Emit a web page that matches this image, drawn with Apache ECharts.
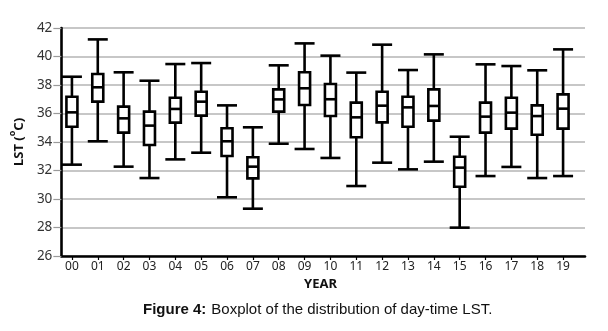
<!DOCTYPE html>
<html><head><meta charset="utf-8">
<script src="https://cdn.jsdelivr.net/npm/echarts@6/dist/echarts.min.js"></script>
<style>html,body{margin:0;padding:0;background:#fff}#c{width:608px;height:331px}</style>
</head><body><div id="c"></div>
<script>
var years = ['00','01','02','03','04','05','06','07','08','09','10','11','12','13','14','15','16','17','18','19'];
var whiskerLow = [32.41,34.05,32.27,31.47,32.78,33.25,30.12,29.32,33.88,33.51,32.88,30.91,32.55,32.08,32.62,27.99,31.61,32.25,31.47,31.61];
var q1 =         [35.07,36.83,34.66,33.79,35.36,35.85,33.02,31.45,36.13,36.60,35.82,34.33,35.38,35.07,35.50,30.86,34.66,34.94,34.51,34.94];
var median =     [36.08,37.84,35.66,35.15,36.32,36.83,34.05,32.27,36.99,37.77,37.00,35.73,36.55,36.43,36.53,32.20,35.78,36.06,35.82,36.34];
var q3 =         [37.18,38.77,36.48,36.13,37.11,37.53,34.96,32.93,37.69,38.89,38.07,36.76,37.53,37.18,37.69,32.97,36.76,37.11,36.57,37.34];
var whiskerHigh =[38.58,41.20,38.89,38.30,39.47,39.54,36.57,35.03,39.38,40.92,40.06,38.87,40.83,39.05,40.15,34.37,39.45,39.33,39.03,40.50];
var yTicks = {min: 26, max: 42, interval: 2};

var data = years.map(function(y, i){ return [i, whiskerLow[i], q1[i], median[i], q3[i], whiskerHigh[i]]; });

function renderBox(params, api){
  var i = api.value(0);
  var pLo = api.coord([i, api.value(1)]);
  var pQ1 = api.coord([i, api.value(2)]);
  var pMd = api.coord([i, api.value(3)]);
  var pQ3 = api.coord([i, api.value(4)]);
  var pHi = api.coord([i, api.value(5)]);
  var x = pMd[0];
  var bw = 5.5, cw = 10;
  var st = {stroke:'#000', lineWidth:2.6, fill:'none'};
  return {type:'group', children:[
    {type:'line', shape:{x1:x,y1:pHi[1],x2:x,y2:pQ3[1]}, style:st},
    {type:'line', shape:{x1:x,y1:pQ1[1],x2:x,y2:pLo[1]}, style:st},
    {type:'line', shape:{x1:x-cw,y1:pHi[1],x2:x+cw,y2:pHi[1]}, style:st},
    {type:'line', shape:{x1:x-cw,y1:pLo[1],x2:x+cw,y2:pLo[1]}, style:st},
    {type:'rect', shape:{x:x-bw,y:pQ3[1],width:2*bw,height:pQ1[1]-pQ3[1]}, style:{stroke:'#000',lineWidth:2.6,fill:'#fff'}},
    {type:'line', shape:{x1:x-bw,y1:pMd[1],x2:x+bw,y2:pMd[1]}, style:st}
  ]};
}

var chart = echarts.init(document.getElementById('c'), null, {renderer:'canvas'});
chart.setOption({
  animation:false,
  backgroundColor:'#fff',
  title:{
    text:'{b|Figure 4:} {n|Boxplot of the distribution of day-time LST.}',
    left:138, top:296,
    textStyle:{fontWeight:'normal', rich:{
      b:{fontFamily:'Liberation Sans',fontWeight:'bold',fontSize:15,color:'#111'},
      n:{fontFamily:'Liberation Sans',fontWeight:'normal',fontSize:15,color:'#111'}
    }}
  },
  grid:[
    {left:61, right:23, top:28, bottom:75},
    {left:59, width:517, top:28, bottom:75}
  ],
  xAxis:[
    {gridIndex:0, type:'value', min:0, max:1, axisLine:{show:true,lineStyle:{color:'#000',width:2.6}},
     axisTick:{show:false}, axisLabel:{show:false}, splitLine:{show:false}},
    {gridIndex:1, type:'category', data:years, boundaryGap:true,
     axisLine:{show:false},
     axisTick:{show:true, alignWithLabel:true, length:4, lineStyle:{color:'#000',width:1.2}},
     axisLabel:{fontFamily:'Noto Sans', fontSize:12, color:'#222', margin:5},
     name:'YEAR', nameLocation:'middle', nameGap:19,
     nameTextStyle:{fontFamily:'Noto Sans', fontWeight:'bold', fontSize:13, color:'#111', padding:[0,0,0,6]}}
  ],
  yAxis:[
    {gridIndex:0, type:'value', min:yTicks.min, max:yTicks.max, interval:yTicks.interval,
     axisLine:{show:true, lineStyle:{color:'#000',width:2.6}},
     axisTick:{show:true, length:8, lineStyle:{color:'#9a9a9a',width:1.2}},
     axisLabel:{fontFamily:'Noto Sans', fontSize:13.5, color:'#333', margin:9},
     splitLine:{show:true, lineStyle:{color:'#b4b4b4', width:1.5}},
     name:'{n|LST (}{s|o}{n|C)}', nameLocation:'middle', nameGap:31,
     nameTextStyle:{rich:{
       n:{fontFamily:'Noto Sans', fontWeight:'bold', fontSize:13, color:'#111', lineHeight:18, verticalAlign:'bottom'},
       s:{fontFamily:'Noto Sans', fontWeight:'bold', fontSize:9, color:'#111', lineHeight:18, verticalAlign:'top'}
     }}},
    {gridIndex:1, type:'value', min:yTicks.min, max:yTicks.max, show:false}
  ],
  series:[{
    type:'custom', xAxisIndex:1, yAxisIndex:1,
    renderItem:renderBox,
    encode:{x:0, y:[1,2,3,4,5]},
    data:data, z:5
  }]
});
</script></body></html>
